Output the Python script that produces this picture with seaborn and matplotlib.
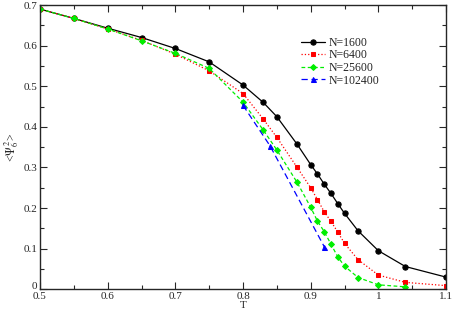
import numpy as np
import pandas as pd
import matplotlib
matplotlib.use("Agg")
import matplotlib.pyplot as plt
import matplotlib.transforms as mtransforms
import seaborn as sns
from matplotlib.ticker import MultipleLocator, FuncFormatter

# ---------- data ----------
T_1600 = [0.50, 0.55, 0.60, 0.65, 0.70, 0.75, 0.80, 0.83, 0.85, 0.88,
          0.90, 0.91, 0.92, 0.93, 0.94, 0.95, 0.97, 1.00, 1.04, 1.10]
psi_1600 = [0.690, 0.667, 0.643, 0.620, 0.593, 0.560, 0.503, 0.460, 0.425, 0.357,
            0.307, 0.284, 0.259, 0.236, 0.211, 0.187, 0.144, 0.095, 0.056, 0.030]

T_6400 = [0.50, 0.55, 0.60, 0.65, 0.70, 0.75, 0.80, 0.83, 0.85, 0.88,
          0.90, 0.91, 0.92, 0.93, 0.94, 0.95, 0.97, 1.00, 1.04, 1.10]
psi_6400 = [0.690, 0.667, 0.641, 0.613, 0.579, 0.538, 0.482, 0.419, 0.374, 0.300,
            0.250, 0.221, 0.191, 0.167, 0.141, 0.113, 0.073, 0.035, 0.017, 0.009]

T_25600 = [0.50, 0.55, 0.60, 0.65, 0.70, 0.75, 0.80, 0.83, 0.85, 0.88,
           0.90, 0.91, 0.92, 0.93, 0.94, 0.95, 0.97, 1.00, 1.04]
psi_25600 = [0.690, 0.667, 0.641, 0.612, 0.581, 0.544, 0.461, 0.392, 0.343, 0.263,
             0.202, 0.168, 0.142, 0.111, 0.080, 0.057, 0.029, 0.011, 0.006]

T_102400 = [0.80, 0.84, 0.92]
psi_102400 = [0.453, 0.353, 0.105]

# ---------- style ----------
sns.set_theme(style="ticks")
plt.rcParams["font.family"] = ["Liberation Serif", "DejaVu Serif"]
plt.rcParams["mathtext.fontset"] = "stix"

fig = plt.figure(figsize=(4.53, 3.14), dpi=100)
ax = fig.add_axes([0.0883, 0.0787, 0.8963, 0.9053])

series = [
    ("N=1600",   T_1600,   psi_1600,   "black",   "o", "-",            3.8),
    ("N=6400",   T_6400,   psi_6400,   "#ff0000", "s", ":",            3.4),
    ("N=25600",  T_25600,  psi_25600,  "#00ee00", "D", (0, (3, 2)),    3.0),
    ("N=102400", T_102400, psi_102400, "#0000ff", "^", (0, (5, 3)),    3.6),
]

for label, xs, ys, col, mk, ls, ms in series:
    df = pd.DataFrame({"T": xs, "psi": ys})
    sns.lineplot(data=df, x="T", y="psi", ax=ax, color=col, marker=mk,
                 linestyle=ls, linewidth=0.9, markersize=ms,
                 markeredgecolor=col, label=label)

ax.set_xlim(0.5, 1.1)
ax.set_ylim(0, 0.7)
ax.xaxis.set_major_locator(MultipleLocator(0.1))
ax.xaxis.set_minor_locator(MultipleLocator(0.05))
ax.yaxis.set_major_locator(MultipleLocator(0.1))
ax.yaxis.set_minor_locator(MultipleLocator(0.05))
fmt = FuncFormatter(lambda v, p: "%g" % round(v, 3))
ax.xaxis.set_major_formatter(fmt)
ax.yaxis.set_major_formatter(fmt)
ax.tick_params(which="both", direction="in", top=True, right=True,
               labelsize=8, pad=2)
ax.tick_params(which="major", length=5, width=0.8)
ax.tick_params(which="minor", length=3, width=0.8)
for s in ax.spines.values():
    s.set_linewidth(1.0)

ax.set_xlabel("T", fontsize=8, labelpad=0)
ax.set_ylabel(r"<$\Psi_6^{\,2}$>", fontsize=8.5, labelpad=2)

leg = ax.legend(loc="upper left", bbox_to_anchor=(0.63, 0.905), frameon=False,
                fontsize=8.5, handlelength=2.1, handletextpad=0.25,
                labelspacing=0.05, borderaxespad=0)

# nudge the "0" y label up a touch so it doesn't sit on top of "0.5"
fig.canvas.draw()
for lab in ax.get_yticklabels():
    if lab.get_text() == "0":
        lab.set_transform(lab.get_transform() +
                          mtransforms.ScaledTranslation(0, 3 / 72, fig.dpi_scale_trans))

fig.savefig("out.png", dpi=100)
